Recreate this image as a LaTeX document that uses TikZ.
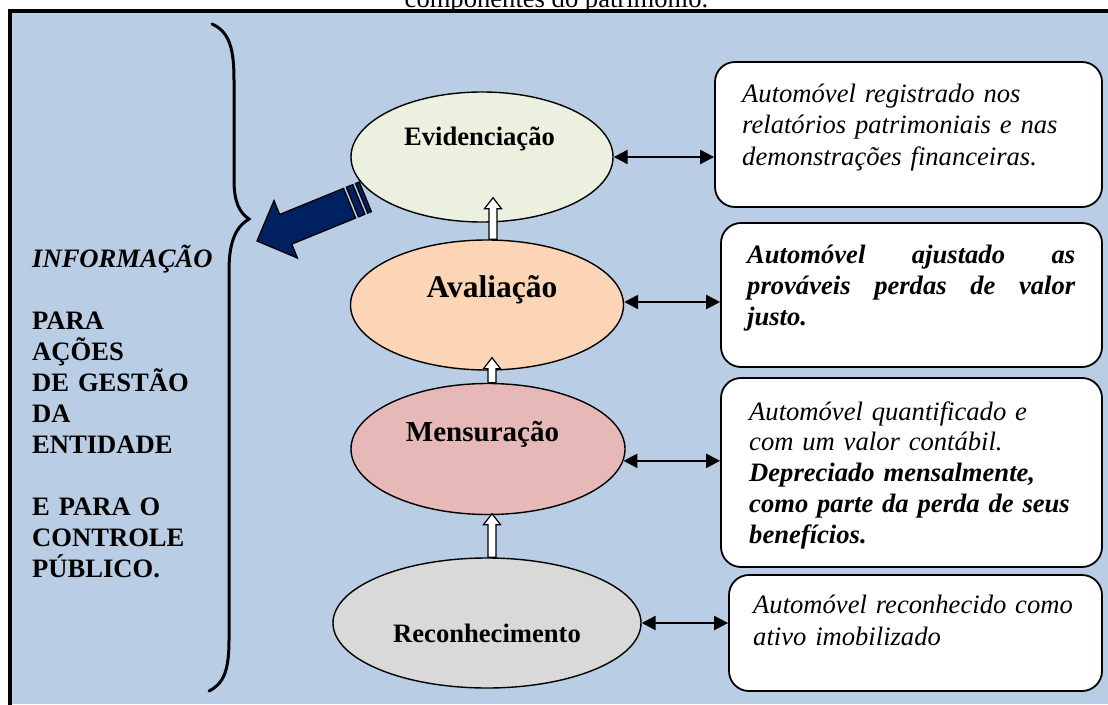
\documentclass[tikz,border=0pt]{standalone}
\usepackage{fontspec}
\setmainfont{Liberation Serif}
\usetikzlibrary{shapes.geometric,arrows.meta,calc}
\definecolor{bgblue}{RGB}{185,205,228}
\definecolor{evidc}{RGB}{235,241,222}
\definecolor{avalc}{RGB}{251,213,181}
\definecolor{mensc}{RGB}{230,185,184}
\definecolor{recc}{RGB}{217,217,217}
\definecolor{navyc}{RGB}{0,32,96}
\tikzset{
  stage/.style={ellipse, draw=black, line width=1.4pt, inner sep=0pt},
  infobox/.style={draw=black, fill=white, line width=1.8pt, rounded corners=20pt, inner sep=0pt},
  boxtext/.style={anchor=north west, inner sep=0pt, align=left, text width=380pt},
  link/.style={line width=2.4pt, {Triangle[length=14pt,width=14pt]}-{Triangle[length=14pt,width=14pt]}},
  blockw/.style={draw=black, fill=white, line width=1.2pt},
  stagelabel/.style={inner sep=0pt, anchor=base},
  navyshape/.style={draw=black, fill=navyc, line width=1.3pt, line join=miter}
}
\newcommand\blockup[2]{%
  \draw[blockw] let \p1=(#1), \p2=(#2) in
    (\x1-4pt,\y1) -- (\x1-4pt,\y2-11pt) -- (\x1-8.5pt,\y2-11pt) -- (\x1,\y2)
    -- (\x1+8.5pt,\y2-11pt) -- (\x1+4pt,\y2-11pt) -- (\x1+4pt,\y1) -- cycle;}
\newcommand\justline[1]{\leavevmode\hbox to 328pt{#1}}
\begin{document}
\begin{tikzpicture}[x=1pt,y=-1pt]
\useasboundingbox (0,0) rectangle (1108,704);
% caption (cut off at top, as in the source)
\node[anchor=base, inner sep=0pt, font=\fontsize{26.6}{31}\selectfont] (cap) at (556.5,7) {componentes do patrimônio.};
% frame: only left and top edges are visible
\fill[bgblue] (10,11) rectangle (1108,704);
\draw[line width=4pt, line cap=rect] (10,704) -- (10,11) -- (1108,11);

% brace
\draw[line width=3pt, line cap=round] (212,24) .. controls (230,32) and (234,50) .. (234,80)
  -- (234,180) .. controls (234,203) and (240,213) .. (249,219)
  .. controls (237,226) and (229,240) .. (229,270) -- (229,640)
  .. controls (229,672) and (223,684) .. (209,691);

% left text
\node[boxtext, text width=300pt, font=\fontsize{26.6}{31}\selectfont\bfseries] (info) at (32,245.3)
  {\strut\textit{INFORMAÇÃO}\\[31pt]
   PARA\\ AÇÕES\\ DE GESTÃO\\ DA\\ ENTIDADE\\[31pt]
   E PARA O\\ CONTROLE\\ PÚBLICO.};

% stages
\node[stage, fill=evidc, minimum width=262pt, minimum height=130pt] (evid) at (482,157) {};
\node[stage, fill=avalc, minimum width=273pt, minimum height=130pt] (aval) at (487,305) {};
\node[stage, fill=mensc, minimum width=274pt, minimum height=131pt] (mens) at (488,449) {};
\node[stage, fill=recc, minimum width=308pt, minimum height=130pt] (rec) at (487,623) {};

\node[stagelabel, font=\fontsize{26.6}{31}\selectfont\bfseries] (evidt) at (479.5,145) {Evidenciação};
\node[stagelabel, font=\fontsize{31.5}{36}\selectfont\bfseries] (avalt) at (492,297) {Avaliação};
\node[stagelabel, font=\fontsize{29}{34}\selectfont\bfseries] (menst) at (482.5,441) {Mensuração};
\node[stagelabel, font=\fontsize{26.6}{31}\selectfont\bfseries] (rect) at (487,642) {Reconhecimento};

% white up arrows
\coordinate (w1b) at ($(aval.north)+(6,0)$);
\coordinate (w1t) at ($(evid.south)+(11,-25)$);
\coordinate (w2b) at ($(mens.north)+(4,0)$);
\coordinate (w2t) at ($(aval.south)+(5,-13)$);
\coordinate (w3b) at ($(rec.north)+(5,0)$);
\coordinate (w3t) at ($(mens.south)+(4,-1.5)$);
\blockup{w1b}{w1t}
\blockup{w2b}{w2t}
\blockup{w3b}{w3t}

% navy striped arrow
\begin{scope}[shift={(257,241)}, rotate=22.2]
  \draw[navyshape] (0,0) -- (31,-31) -- (31,-16) -- (100,-16) -- (100,16) -- (31,16) -- (31,31) -- cycle;
  \draw[navyshape] (103,-16) rectangle (110,16);
  \draw[navyshape] (113,-16) rectangle (117,16);
\end{scope}

% boxes
\node[infobox, minimum width=387pt, minimum height=145pt] (box1) at (908.5,134.5) {};
\node[infobox, minimum width=381pt, minimum height=144pt] (box2) at (911.5,295) {};
\node[infobox, minimum width=381pt, minimum height=189pt] (box3) at (911.5,472.5) {};
\node[infobox, minimum width=373pt, minimum height=116pt] (box4) at (915.5,633) {};

\node[boxtext, font=\fontsize{26.6}{31.5}\selectfont\itshape] (box1t) at (742,80)
  {\strut Automóvel registrado nos\\ relatórios patrimoniais e nas\\ demonstrações financeiras.};
\node[boxtext, font=\fontsize{26.6}{31}\selectfont\bfseries\itshape] (box2t) at (747,241.3)
  {\strut\justline{Automóvel\hfill ajustado\hfill as}\\
   \justline{prováveis\hfill perdas\hfill de\hfill valor}\\ justo.};
\node[boxtext, font=\fontsize{26.6}{30.75}\selectfont\itshape] (box3t) at (749,398.5)
  {\strut Automóvel quantificado e\\ com um valor contábil.\\
   \textbf{Depreciado mensalmente,}\\ \textbf{como parte da perda de seus}\\ \textbf{benefícios.}};
\node[boxtext, font=\fontsize{26.6}{32}\selectfont\itshape] (box4t) at (753,590.6)
  {\strut Automóvel reconhecido como\\ ativo imobilizado};

% links
\draw[link] (evid.east) -- (evid.east -| box1.west);
\draw[link] ($(aval.east)+(0,-3)$) -- ($(aval.east -| box2.west)+(0,-3)$);
\draw[link] (mens.-5) -- (mens.-5 -| box3.west);
\draw[link] (rec.east) -- (rec.east -| box4.west);
\end{tikzpicture}
\end{document}
